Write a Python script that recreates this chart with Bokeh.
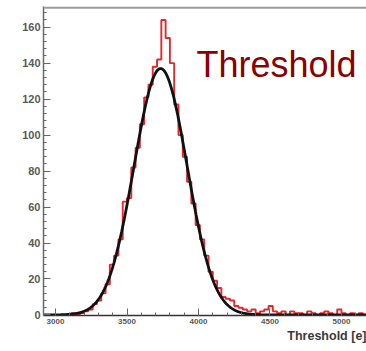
import numpy as np
from bokeh.plotting import figure
from bokeh.models import Range1d, Label, FixedTicker, Span, Title
from bokeh.embed import file_html
from bokeh.resources import INLINE

# Threshold distribution, 30 e bins starting at 2900 e
bin_start = 2900
bin_width = 30
counts = [
    0, 0, 0, 0, 0, 0, 0, 1, 0, 1,
    2, 3, 6, 8, 12, 17, 28, 33, 42, 63,
    65, 82, 93, 106, 121, 128, 138, 142, 164, 154,
    140, 117, 100, 88, 74, 62, 50, 42, 33, 24,
    19, 15, 10, 9, 8, 5, 4, 3, 2, 3,
    1, 2, 3, 5, 2, 1, 2, 0, 2, 1,
    1, 0, 2, 1, 0, 1, 2, 1, 0, 3,
    1, 0, 1, 0, 1, 0,
]

# Gaussian fit parameters
fit_amp = 137.0
fit_mean = 3735.0
fit_sigma = 185.0

x_ticks = [3000, 3500, 4000, 4500, 5000]
y_ticks = [0, 20, 40, 60, 80, 100, 120, 140, 160]

x_lo, x_hi = 2916, 5175
y_lo, y_hi = -0.3, 171.5

p = figure(
    width=366, height=351,
    output_backend="svg", toolbar_location=None,
    x_range=Range1d(x_lo, x_hi), y_range=Range1d(y_lo, y_hi),
    min_border_left=43, min_border_right=0,
    min_border_top=6, min_border_bottom=36,
    background_fill_color="white", border_fill_color="white",
)
p.grid.visible = False
p.outline_line_color = None

# top frame line
p.add_layout(Span(location=y_hi - 0.6, dimension="width",
                  line_color="#9c9c9c", line_width=2.2))

# histogram outline
edges = bin_start + bin_width * np.arange(len(counts) + 1)
step_y = list(counts) + [counts[-1]]
p.step(edges, step_y, mode="after", line_color="#e8262c", line_width=1.9)

# fitted Gaussian
xf = np.linspace(x_lo, x_hi, 600)
yf = fit_amp * np.exp(-0.5 * ((xf - fit_mean) / fit_sigma) ** 2)
p.line(xf, yf, line_color="#111111", line_width=2.8)

# axes
for ax in (p.xaxis[0], p.yaxis[0]):
    ax.major_tick_in = 7
    ax.major_tick_out = 0
    ax.minor_tick_in = 3
    ax.minor_tick_out = 0
    ax.major_label_text_font = "Liberation Sans"
    ax.major_label_text_font_style = "bold"
    ax.major_label_text_color = "#5a5a5a"
    ax.major_tick_line_color = "#666666"
    ax.minor_tick_line_color = "#666666"

p.xaxis.ticker = FixedTicker(ticks=x_ticks,
                             minor_ticks=list(range(2900, 5200, 100)))
p.yaxis.ticker = FixedTicker(ticks=y_ticks,
                             minor_ticks=list(range(0, 172, 4)))
p.xaxis.major_label_text_font_size = "8px"
p.xaxis.major_label_standoff = 3
p.xaxis.axis_line_color = "#333333"
p.xaxis.axis_line_width = 1.5
p.yaxis.major_label_text_font_size = "11px"
p.yaxis.major_label_standoff = 3
p.yaxis.axis_line_color = "#6a6a6a"
p.yaxis.axis_line_width = 1.5

# axis title, right-aligned under the tick labels
p.add_layout(Title(
    text="Threshold [e]", align="right",
    text_font="Liberation Sans", text_font_style="bold",
    text_font_size="12.5px", text_color="#3a3a3a",
    standoff=0, offset=0,
), "below")

p.add_layout(Label(
    x=3986, y=139, text="Threshold",
    text_align="left", text_baseline="alphabetic",
    text_font="Liberation Sans", text_font_size="36px",
    text_color="#8b0000",
))

open("out.html", "w").write(file_html(p, INLINE))
